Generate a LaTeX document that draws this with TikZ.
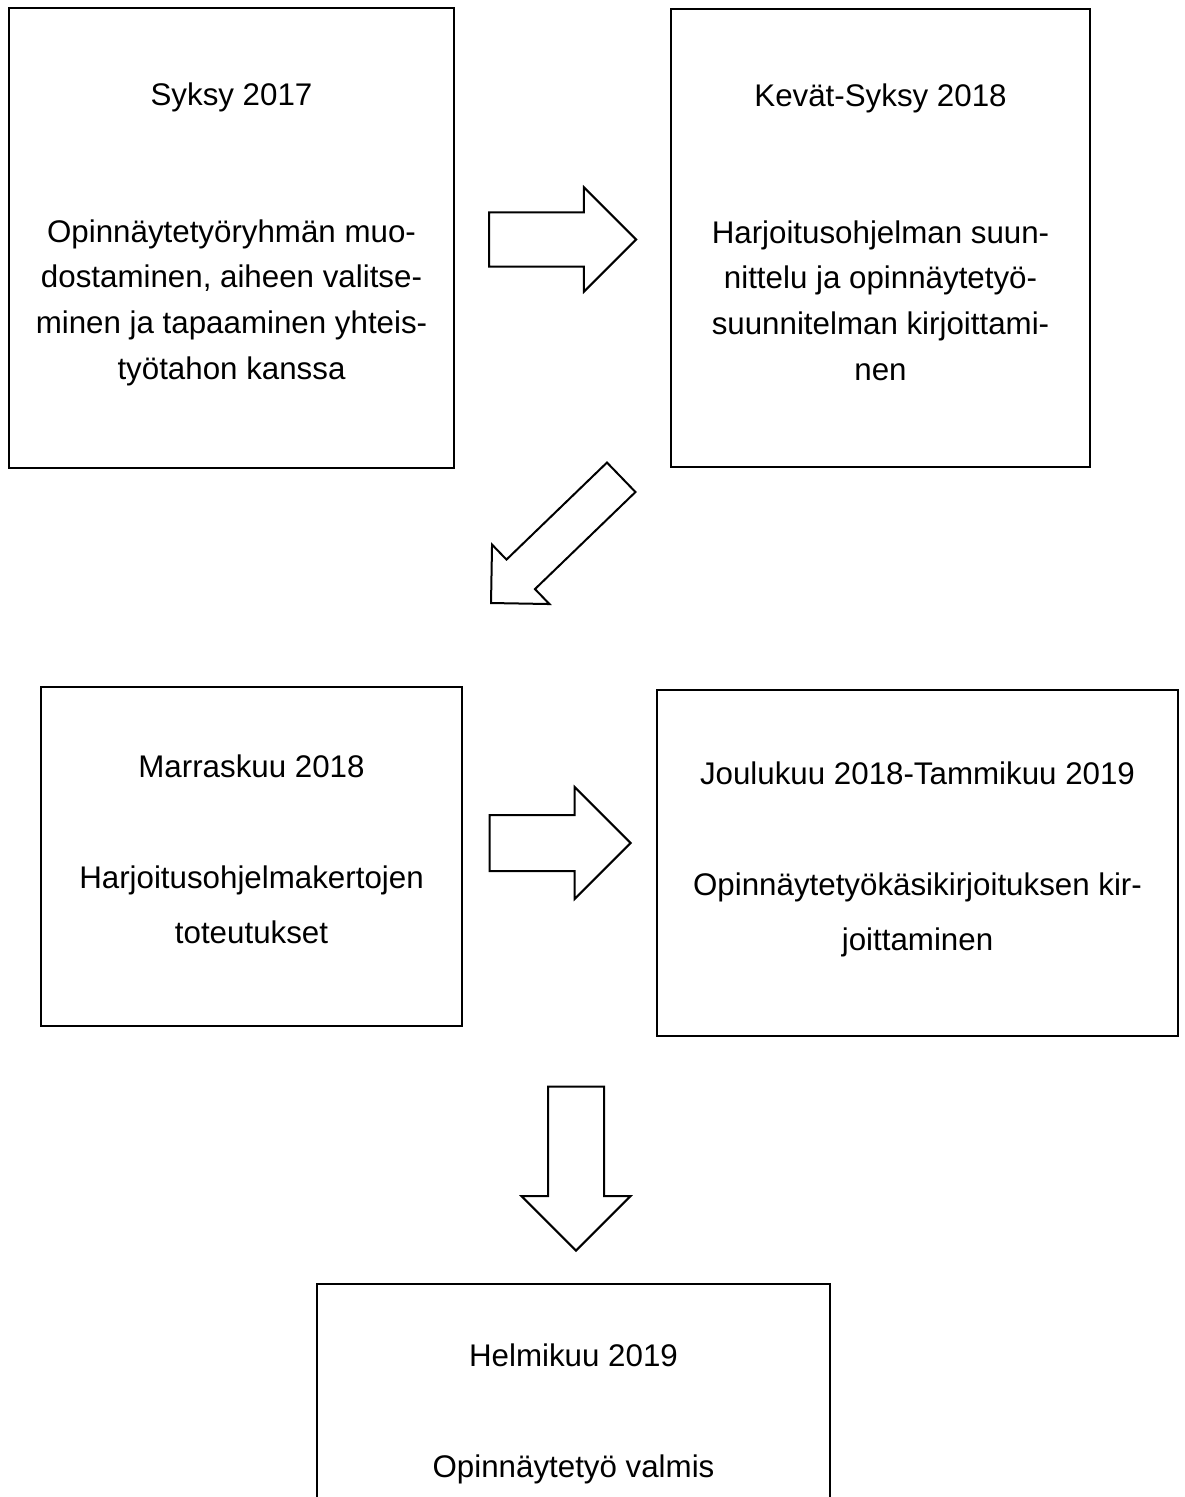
\documentclass[tikz,border=0pt]{standalone}
\usepackage{fontspec}
\setmainfont{Liberation Sans}
\usetikzlibrary{shapes.arrows}
\tikzset{
  box/.style={draw, line width=1pt, rectangle, inner sep=0pt},
  txt/.style={align=center, inner sep=0pt, anchor=north},
  upper/.style={font=\fontsize{15.65pt}{22.9pt}\selectfont},
  lower/.style={font=\fontsize{15.65pt}{27.5pt}\selectfont},
  blockarrow/.style={draw, line width=1pt, single arrow, minimum width=0pt, inner xsep=0pt, anchor=tip}
}
\begin{document}
\begin{tikzpicture}[x=0.5pt, y=-0.5pt]
\clip (0,0) rectangle (1184,1497);
\fill[white] (0,0) rectangle (1184,1497);
% boxes
\node[box, minimum width=222.5pt, minimum height=230pt] (syksy) at (231.5,238) {};
\node[box, minimum width=209.5pt, minimum height=229pt] (kevat) at (880.5,238) {};
\node[box, minimum width=210.5pt, minimum height=169.5pt] (marras) at (251.5,856.5) {};
\node[box, minimum width=260.5pt, minimum height=173pt] (joulu) at (917.5,863) {};
\node[box, minimum width=256.5pt, minimum height=150pt] (helmi) at (573.5,1434) {};
% texts
\node[txt, upper] (syksy-t) at (231.5,82) {Syksy 2017\\[45.6pt]Opinnäytetyöryhmän muo-\\dostaminen, aiheen valitse-\\minen ja tapaaminen yhteis-\\työtahon kanssa};
\node[txt, upper] (kevat-t) at (880.5,83) {Kevät-Syksy 2018\\[45.6pt]Harjoitusohjelman suun-\\nittelu ja opinnäytetyö-\\suunnitelman kirjoittami-\\nen};
\node[txt, lower] (marras-t) at (251.5,754) {Marraskuu 2018\\[28pt]Harjoitusohjelmakertojen\\toteutukset};
\node[txt, lower] (joulu-t) at (917.5,761) {Joulukuu 2018-Tammikuu 2019\\[28.25pt]Opinnäytetyökäsikirjoituksen kir-\\joittaminen};
\node[txt, lower] (helmi-t) at (573.5,1343) {Helmikuu 2019\\[28pt]Opinnäytetyö valmis};
% block arrows
\node[blockarrow, minimum height=73.5pt, inner ysep=13.1pt, single arrow head extend=12.5pt] (arrA) at (637.5,239.5) {};
\node[blockarrow, rotate=224, minimum height=90.5pt, inner ysep=9.75pt, single arrow head extend=10.4pt] (arrB) at (490,604) {};
\node[blockarrow, minimum height=70.5pt, inner ysep=13.5pt, single arrow head extend=14pt] (arrC) at (632,843) {};
\node[blockarrow, rotate=-90, minimum height=82pt, inner ysep=13.5pt, single arrow head extend=13.25pt] (arrD) at (576,1252) {};
\end{tikzpicture}
\end{document}
